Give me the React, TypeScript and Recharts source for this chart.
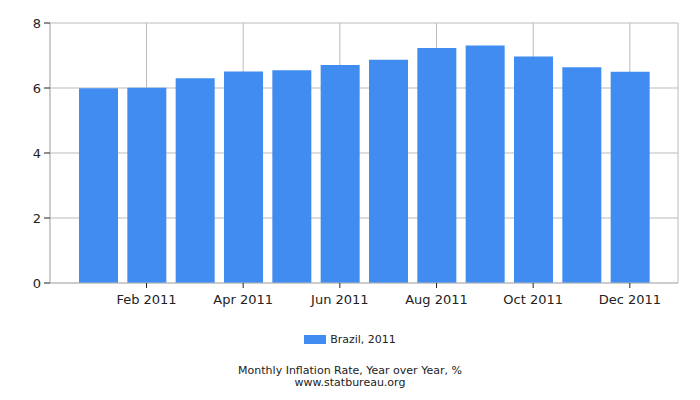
import React from "react";
import {
  BarChart,
  Bar,
  XAxis,
  YAxis,
  CartesianGrid,
} from "recharts";

const months = [
  "Jan 2011", "Feb 2011", "Mar 2011", "Apr 2011", "May 2011", "Jun 2011",
  "Jul 2011", "Aug 2011", "Sep 2011", "Oct 2011", "Nov 2011", "Dec 2011",
];
const brazil2011 = [5.99, 6.01, 6.3, 6.51, 6.55, 6.71, 6.87, 7.23, 7.31, 6.97, 6.64, 6.5];
const xTicks = ["Feb 2011", "Apr 2011", "Jun 2011", "Aug 2011", "Oct 2011", "Dec 2011"];
const yTicks = [0, 2, 4, 6, 8];

const seriesName = "Brazil, 2011";
const title = "Monthly Inflation Rate, Year over Year, %";
const site = "www.statbureau.org";

const BAR_COLOR = "#418cf0";
const GRID = "#bbbbbb";
const FONT = "'DejaVu Sans', Verdana, sans-serif";

const data = months.map((m, i) => ({ month: m, value: brazil2011[i] }));

export default function App() {
  return (
    <div style={{ position: "absolute", left: 0, top: 0, width: 700, height: 400, background: "#fff", fontFamily: FONT }}>
      <BarChart
        width={700}
        height={400}
        data={data}
        margin={{ top: 23, right: 22, left: 0, bottom: 87 }}
      >
        <CartesianGrid stroke={GRID} />
        <XAxis
          dataKey="month"
          ticks={xTicks}
          interval={0}
          height={30}
          padding={{ left: 24, right: 24 }}
          tickSize={5}
          tickMargin={7}
          tickLine={{ stroke: "#222" }}
          axisLine={{ stroke: GRID }}
          tick={{ fill: "#222", fontSize: 13, fontFamily: FONT }}
        />
        <YAxis
          domain={[0, 8]}
          ticks={yTicks}
          width={50}
          tickSize={6}
          tickMargin={3}
          tickLine={{ stroke: "#222" }}
          axisLine={{ stroke: GRID }}
          tick={{ fill: "#222", fontSize: 13, fontFamily: FONT }}
        />
        <YAxis
          yAxisId="right"
          orientation="right"
          width={0}
          tick={false}
          tickLine={false}
          axisLine={{ stroke: GRID }}
        />
        <Bar dataKey="value" name={seriesName} fill={BAR_COLOR} barSize={39} isAnimationActive={false} />
      </BarChart>

      <div style={{ position: "absolute", left: 0, top: 333, width: 700, display: "flex", justifyContent: "center", alignItems: "center", fontSize: 11, color: "#222" }}>
        <span style={{ display: "inline-block", width: 22, height: 9, background: BAR_COLOR, marginRight: 4 }} />
        <span>{seriesName}</span>
      </div>
      <div style={{ position: "absolute", left: 0, top: 365, width: 700, textAlign: "center", fontSize: 11, lineHeight: "11.5px", color: "#222" }}>
        <div>{title}</div>
        <div>{site}</div>
      </div>
    </div>
  );
}
